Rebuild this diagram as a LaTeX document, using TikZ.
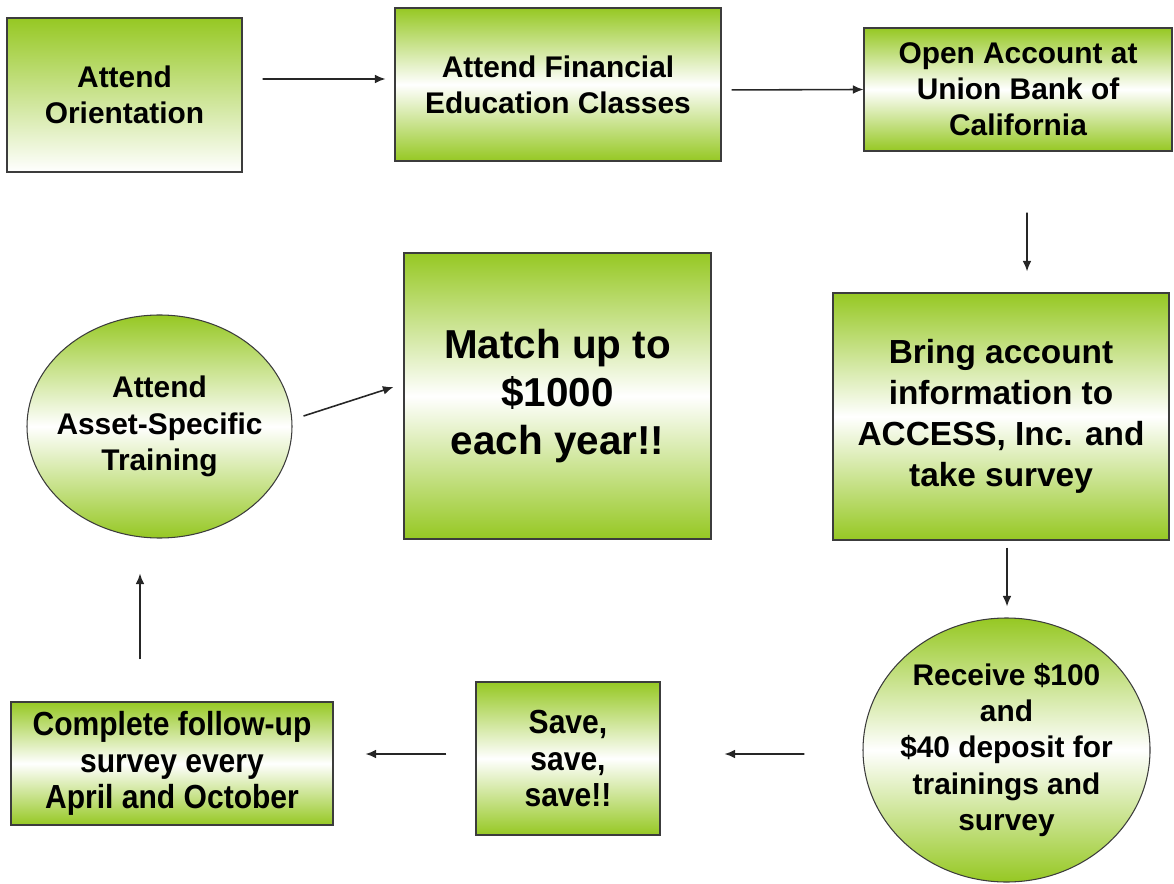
\documentclass[tikz,border=0pt]{standalone}
\usepackage{fontspec}
\setmainfont{Liberation Sans}
\newfontfamily\narrowfont{Liberation Sans}[FakeStretch=0.9]
\usetikzlibrary{arrows.meta,shapes.geometric}
\definecolor{leaf}{RGB}{150,200,35}
\definecolor{rim}{RGB}{60,60,60}

\tikzset{
	stepbox/.style={draw=rim, line width=0.6pt, inner sep=0pt, align=center,
		top color=leaf, bottom color=leaf, middle color=white,
		font=\bfseries\fontsize{17}{20.5}\selectfont},
	fadebox/.style={draw=rim, line width=0.6pt, inner sep=0pt, align=center,
		top color=leaf, bottom color=white,
		font=\bfseries\fontsize{17}{20.5}\selectfont},
	stepoval/.style={ellipse, draw=rim, line width=0.6pt, inner sep=-0.3cm, align=center,
		top color=leaf, bottom color=leaf, middle color=white,
		font=\bfseries\fontsize{17}{20.7}\selectfont},
	flow/.style={draw=black!85, line width=0.9pt, -{Latex[length=6pt,width=5pt]}}
}

\begin{document}
\begin{tikzpicture}
		%%%%% START %%%%%
		\useasboundingbox (0, 0) rectangle (23.48, -17.68);
		
		\node[fadebox, minimum width=4.70cm, minimum height=3.08cm] (orient) at (2.49, -1.90) {Attend\\Orientation};
		\node[stepbox, minimum width=6.52cm, minimum height=3.06cm] (fin) at (11.16, -1.69) {Attend Financial\\Education Classes};
		\node[stepbox, minimum width=6.16cm, minimum height=2.46cm] (open) at (20.36, -1.79) {Open Account at\\Union Bank of\\California};
		
		\node[stepbox, minimum width=6.72cm, minimum height=4.94cm, font=\bfseries\fontsize{19}{23.2}\selectfont] (bring) at (20.02, -8.33) {Bring account\\information to\\ACCESS, Inc. and\\take survey};
		\node[stepbox, minimum width=6.14cm, minimum height=5.72cm, font=\bfseries\fontsize{23}{27.5}\selectfont] (match) at (11.15, -7.92) {Match up to\\\$1000\\each year!!};
		\node[stepoval, minimum width=5.30cm, minimum height=4.46cm] (asset) at (3.19, -8.53) {Attend\\Asset-Specific\\Training};
		
		\node[stepoval, minimum width=5.74cm, minimum height=5.28cm] (receive) at (20.13, -15.00) {Receive \$100\\and\\\$40 deposit for\\trainings and\\survey};
		\node[stepbox, minimum width=3.68cm, minimum height=3.06cm, font=\narrowfont\bfseries\fontsize{19}{20.7}\selectfont] (save) at (11.36, -15.17) {Save,\\save,\\save!!};
		\node[stepbox, minimum width=6.44cm, minimum height=2.46cm, font=\narrowfont\bfseries\fontsize{19}{20.7}\selectfont] (complete) at (3.44, -15.27) {Complete follow-up\\survey every\\April and October};
		
		\draw[flow, shorten <=0.4cm, shorten >=0.18cm] ([yshift=0.32cm]orient.east) -- ([yshift=0.11cm]fin.west);
		\draw[flow, shorten <=0.2cm] ([yshift=-0.11cm]fin.east) -- (open.west);
		\draw[flow, shorten <=1.22cm, shorten >=0.42cm] ([xshift=0.18cm]open.south) -- ([xshift=0.52cm]bring.north);
		\draw[flow, shorten <=0.14cm, shorten >=0.22cm] ([xshift=0.12cm]bring.south) -- ([xshift=0.01cm]receive.north);
		\draw[flow, shorten <=1.16cm, shorten >=1.28cm] ([yshift=-0.08cm]receive.west) -- ([yshift=0.09cm]save.east);
		\draw[flow, shorten <=0.58cm, shorten >=0.64cm] ([yshift=0.09cm]save.west) -- ([yshift=0.19cm]complete.east);
		\draw[flow, shorten <=0.84cm, shorten >=0.7cm] ([xshift=-0.64cm]complete.north) -- ([xshift=-0.39cm]asset.south);
		\draw[flow] ([xshift=0.22cm, yshift=0.21cm]asset.east) -- ([xshift=-0.20cm, yshift=0.18cm]match.west);
		
		%%%%% END %%%%%
\end{tikzpicture}
\end{document}
